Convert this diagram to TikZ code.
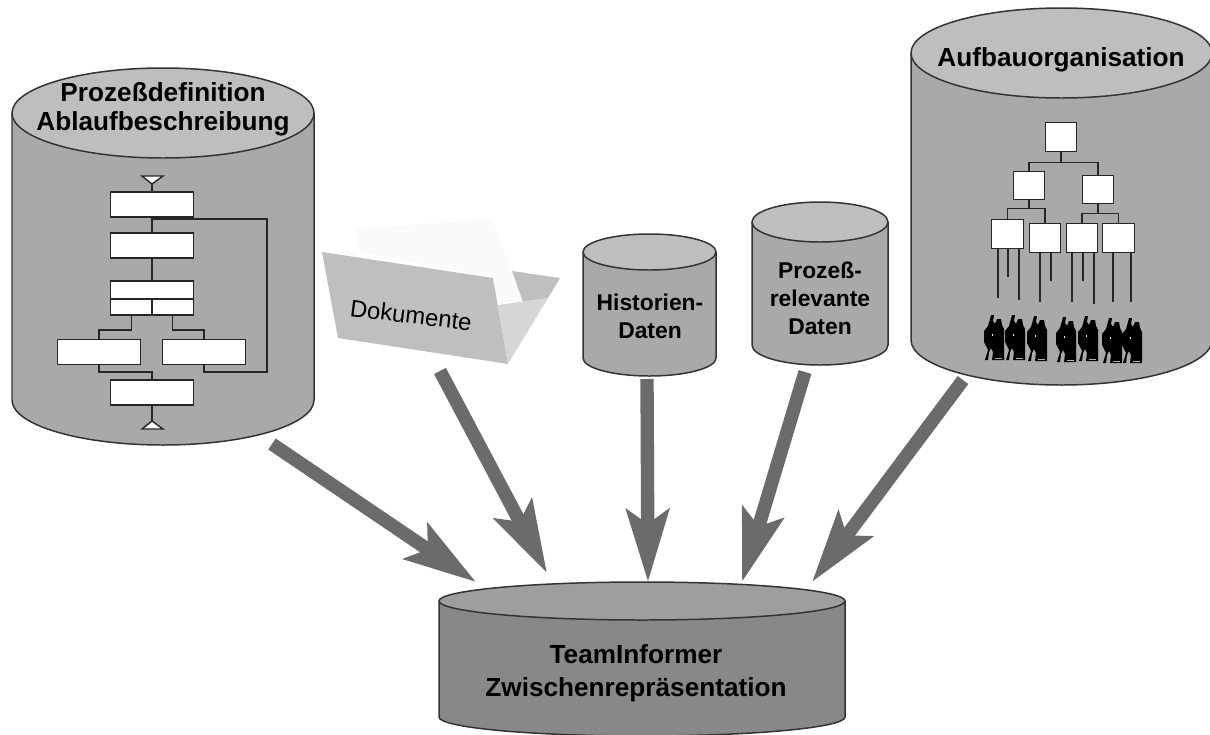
\documentclass[tikz,border=0pt]{standalone}
\usepackage{fontspec}
\setmainfont{Liberation Sans}
\usepackage{tikz}
\usetikzlibrary{arrows.meta}

\tikzset{
	drum/.style={draw=black!80,line width=0.85pt,line join=round},
	drumtext/.style={font=\bfseries\fontsize{14.9}{16.5}\selectfont,align=center,text=black,inner sep=0},
	smalltext/.style={font=\bfseries\fontsize{13}{16}\selectfont,align=center,text=black,inner sep=0},
	fatarrow/.style={draw=black!58,line width=7.6pt,-{Stealth[length=41pt,width=24pt,inset=8pt,color=black!58]}},
	flowbox/.style={draw=black!85,fill=white,line width=0.8pt,inner sep=0,outer sep=0,minimum width=1.66cm,minimum height=0.5cm},
	orgbox/.style={draw=black!85,fill=white,line width=0.8pt,inner sep=0,outer sep=0,minimum width=0.63cm,minimum height=0.57cm},
	flowline/.style={draw=black!85,line width=0.8pt},
	orgline/.style={draw=black!85,line width=0.7pt}
}

\begin{document}
\begin{tikzpicture}[x=0.02cm,y=-0.02cm]

\useasboundingbox (0,0) rectangle (1210,734);

% the drums: left, right, top centre, bottom centre, ry, body and lid gray
\foreach \xa/\xb/\yt/\yb/\ry/\body/\lid in {
	12/314/113/400/45/169/190,
	911/1212/53/340/45/169/190,
	583/716/252/358/18/169/190,
	752/888/222/345/20/169/190,
	439/845/601/717/19/136/158} {
	\pgfmathsetmacro{\rx}{(\xb-\xa)/2}
	\pgfmathsetmacro{\xm}{(\xb+\xa)/2}
	\definecolor{bodycol}{RGB}{\body,\body,\body}
	\definecolor{lidcol}{RGB}{\lid,\lid,\lid}
	\draw[drum,fill=bodycol] (\xa,\yt) -- (\xa,\yb) arc[start angle=180,end angle=360,x radius=\rx*0.02cm,y radius=\ry*0.02cm] -- (\xb,\yt) -- cycle;
	\draw[drum,fill=lidcol] (\xm,\yt) ellipse[x radius=\rx*0.02cm,y radius=\ry*0.02cm];
}

\node[drumtext] (proc) at (163,109) {Prozeßdefinition\\Ablaufbeschreibung};
\node[drumtext] (org) at (1061,60) {Aufbauorganisation};
\node[smalltext] (hist) at (650,316) {Historien-\\Daten};
\node[smalltext] (rel) at (820,298) {Prozeß-\\relevante\\Daten};
\node[drumtext,font=\bfseries\fontsize{14.9}{18.7}\selectfont] (team) at (636,673) {TeamInformer\\Zwischenrepräsentation};

% folder
\fill[black!2] (334,249) -- (353,252) -- (362,258) -- (340,254) -- cycle;
\fill[black!2] (357,229) -- (492,219) -- (523,300) -- (498,305) -- (493,278) -- (360,252) -- cycle;
\fill[black!25] (512,271) -- (560,278) -- (548,298) -- (523,302) -- cycle;
\fill[black!16] (498,305) -- (548,298) -- (508,364) -- cycle;
\fill[black!25] (322,252) -- (493,278) -- (508,364) -- (338,338) -- cycle;
\node[rotate=-7,font=\fontsize{13.6}{16}\selectfont,text=black,inner sep=0] (docs) at (411,315) {Dokumente};

% flow chart
\node[flowbox] (step1) at (152,204.5) {};
\node[flowbox] (step2) at (152,245.5) {};
\node[flowbox,minimum height=0.36cm] (split) at (152,290) {};
\node[flowbox,minimum width=0.83cm,minimum height=0.32cm,anchor=north east] (splitl) at (split.south) {};
\node[flowbox,minimum width=0.83cm,minimum height=0.32cm,anchor=north west] (splitr) at (split.south) {};
\node[flowbox] (casel) at (99,352) {};
\node[flowbox] (caser) at (204,352) {};
\node[flowbox] (step3) at (152,392.5) {};

\coordinate (begin) at (152,184);
\coordinate (end) at (152,421);
\coordinate (branch) at (152,219);
\coordinate (loop) at (267,372);
\coordinate (joinl) at (99,372);

\draw[flowline,fill=white] (142,176) -- (163,176) -- (begin) -- cycle;
\draw[flowline,fill=white] (142,429) -- (163,429) -- (end) -- cycle;
\draw[flowline] (begin) -- (step1.north);
\draw[flowline] (step1.south) -- (step2.north);
\draw[flowline] (branch) -| (loop) -| (caser.south);
\draw[flowline] (step2.south) -- (split.north);
\draw[flowline] (splitl.south) -- ++(0,15) -| (casel.north);
\draw[flowline] (splitr.south) -- ++(0,15) -| (caser.north);
\draw[flowline] (casel.south) -- (joinl) -| (step3.north);
\draw[flowline] (step3.south) -- (end);

% org chart
\foreach \name/\x/\y in {chief/1061/137, headl/1029/185.5, headr/1098/189.5, unita/1007.5/234, unitb/1045/238, unitc/1082/238, unitd/1118.5/238} {
	\node[orgbox] (\name) at (\x,\y) {};
}

\draw[orgline] (chief.south) -- ++(0,11) -| (headl.north);
\draw[orgline] (chief.south) -- ++(0,11) -| (headr.north);
\draw[orgline] (headl.south) -- ++(0,9) -| (unita.north);
\draw[orgline] (headl.south) -- ++(0,9) -| (unitb.north);
\draw[orgline] (headr.south) -- ++(0,10) -| (unitc.north);
\draw[orgline] (headr.south) -- ++(0,10) -| (unitd.north);

\foreach \name/\x/\len in {unita/998/50, unita/1008/29, unita/1019/52, unitb/1040/50, unitb/1051/29, unitc/1072/50, unitc/1083/29, unitc/1094/52, unitd/1113/50, unitd/1131/50} {
	\draw[orgline] (\name.south -| \x,0) -- ++(0,\len);
}

% staff at the foot of the org chart
\foreach \x/\y in {984/314, 1005/314, 1027/315, 1056/316, 1078/315, 1102/317, 1122/317} {
	\begin{scope}[shift={(\x,\y)}]
		\fill[black] (1,46) -- (4,36) -- (0,28) -- (0,17) -- (4,12) -- (6,5) -- (7,1) -- (10,1) -- (9,7) -- (11,10) -- (13,5) -- (17,5) -- (18,11) -- (20,15) -- (20,46) -- (8,46) -- (9,38) -- (7,34) -- (5,38) -- (4,46) -- cycle;
		\fill[white] (7.5,20) rectangle (8.5,22);
		\fill[black!30] (11,44) rectangle (18,45);
	\end{scope}
}

% arrows into the bottom drum
\coordinate (procout) at (272,444);
\coordinate (docsout) at (440,371);
\coordinate (histout) at (647,379);
\coordinate (relout) at (805,372);
\coordinate (orgout) at (963,380);
\coordinate (teamin1) at (476,582);
\coordinate (teamin2) at (547,573);
\coordinate (teamin3) at (648,582);
\coordinate (teamin4) at (742,582);
\coordinate (teamin5) at (812,582);

\draw[fatarrow] (procout) -- (teamin1);
\draw[fatarrow] (docsout) -- (teamin2);
\draw[fatarrow] (histout) -- (teamin3);
\draw[fatarrow] (relout) -- (teamin4);
\draw[fatarrow] (orgout) -- (teamin5);

\end{tikzpicture}
\end{document}
